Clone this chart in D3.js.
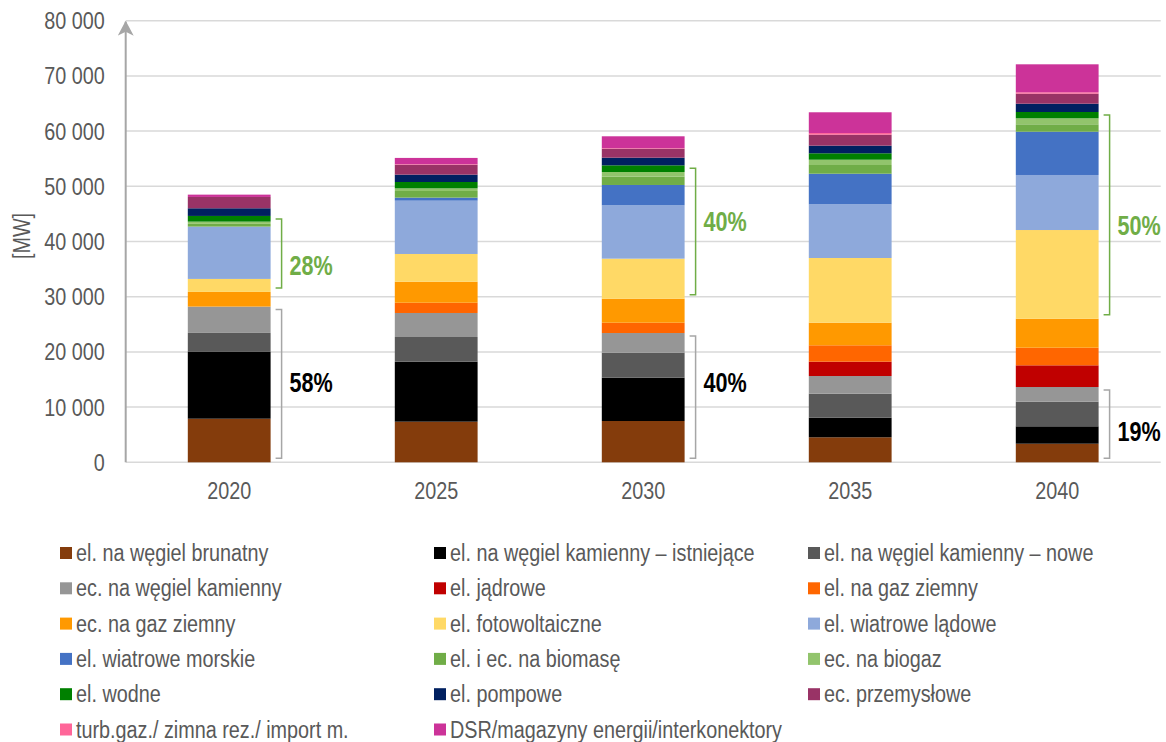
<!DOCTYPE html>
<html>
<head>
<meta charset="utf-8">
<script src="https://cdn.jsdelivr.net/npm/d3@7"></script>
<style>
  body { margin: 0; background: #fff; }
  svg text { font-family: "Liberation Sans Narrow", "Arial Narrow", "Liberation Sans", Arial, sans-serif; }
</style>
</head>
<body>
<svg id="chart" width="1166" height="742"></svg>
<script>
const years = ["2020", "2025", "2030", "2035", "2040"];

const seriesNames = [
    "el. na węgiel brunatny",
    "el. na węgiel kamienny – istniejące",
    "el. na węgiel kamienny – nowe",
    "ec. na węgiel kamienny",
    "el. jądrowe",
    "el. na gaz ziemny",
    "ec. na gaz ziemny",
    "el. fotowoltaiczne",
    "el. wiatrowe lądowe",
    "el. wiatrowe morskie",
    "el. i ec. na biomasę",
    "ec. na biogaz",
    "el. wodne",
    "el. pompowe",
    "ec. przemysłowe",
    "turb.gaz./ zimna rez./ import m.",
    "DSR/magazyny energii/interkonektory"
];

const seriesColors = [
    "#843C0C", "#000000", "#595959", "#969696", "#C00000", "#FF6600",
    "#FF9900", "#FFD966", "#8EA9DB", "#4472C4", "#70AD47", "#92C46C",
    "#008000", "#002060", "#993366", "#FF6699", "#CC3399"
];

// MW per year: 2020, 2025, 2030, 2035, 2040
const brunatny     = [7900, 7360, 7480, 4530, 3370];
const kamIstn      = [12100, 10870, 7850, 3550, 3150];
const kamNowe      = [3440, 4470, 4530, 4350, 4460];
const ecKamienny   = [4770, 4350, 3560, 3200, 2660];
const jadrowe      = [0, 0, 0, 2600, 3930];
const elGaz        = [0, 1860, 1870, 2970, 3190];
const ecGaz        = [2660, 3810, 4350, 4090, 5250];
const foto         = [2350, 5020, 7250, 11720, 16070];
const wiatrLad     = [9480, 9660, 9670, 9730, 9970];
const wiatrMorskie = [0, 550, 3680, 5540, 7840];
const biomasa      = [500, 1200, 1500, 1580, 1340];
const biogaz       = [400, 480, 850, 960, 1090];
const wodne        = [1030, 1150, 1210, 1160, 1140];
const pompowe      = [1390, 1330, 1380, 1380, 1500];
const przemyslowe  = [2050, 1810, 1640, 1990, 1820];
const turbGaz      = [0, 100, 100, 300, 250];
const dsr          = [420, 1120, 2140, 3760, 5070];

const seriesValues = [
    brunatny, kamIstn, kamNowe, ecKamienny, jadrowe, elGaz, ecGaz, foto,
    wiatrLad, wiatrMorskie, biomasa, biogaz, wodne, pompowe, przemyslowe, turbGaz, dsr
];

const yTicks = [0, 10000, 20000, 30000, 40000, 50000, 60000, 70000, 80000];

// share brackets: series index range, label, label level (MW)
const annotations = [
    { year: "2020", from: 0, to: 3, text: "58%", kind: "coal", labelAt: 14500 },
    { year: "2020", from: 7, to: 12, text: "28%", kind: "res", labelAt: 35700 },
    { year: "2030", from: 0, to: 3, text: "40%", kind: "coal", labelAt: 14500 },
    { year: "2030", from: 7, to: 12, text: "40%", kind: "res", labelAt: 43700 },
    { year: "2040", from: 0, to: 3, text: "19%", kind: "coal", labelAt: 5700 },
    { year: "2040", from: 7, to: 12, text: "50%", kind: "res", labelAt: 43000 }
];

const rows = years.map((year, i) => {
    const r = { year };
    seriesNames.forEach((name, s) => { r[name] = seriesValues[s][i]; });
    return r;
});

const svg = d3.select("#chart");
const plotLeft = 125.7, plotRight = 1160.7, plotTop = 20.7, plotBottom = 462.3;

const x = d3.scaleBand()
    .domain(years)
    .range([plotLeft, plotRight])
    .paddingInner(0.6)
    .paddingOuter(0.3);

const y = d3.scaleLinear()
    .domain([0, 80000])
    .range([plotBottom, plotTop]);

const color = d3.scaleOrdinal().domain(seriesNames).range(seriesColors);

// gridlines
svg.append("g")
    .selectAll("line")
    .data(yTicks)
    .join("line")
    .attr("x1", plotLeft)
    .attr("x2", plotRight)
    .attr("y1", d => y(d))
    .attr("y2", d => y(d))
    .attr("stroke", "#D9D9D9")
    .attr("stroke-width", 1.5);

// y axis labels
const yAxis = svg.append("g")
    .attr("transform", `translate(${plotLeft - 21}, 0)`)
    .call(d3.axisLeft(y).tickValues(yTicks).tickSize(0).tickPadding(0)
        .tickFormat(d => d3.format(",")(d).replace(/,/g, " ")));
yAxis.select(".domain").remove();
yAxis.selectAll("text")
    .attr("fill", "#595959")
    .style("font-size", "23px")
    .attr("dy", "0.35em");

svg.append("text")
    .attr("transform", `translate(30, 236) rotate(-90)`)
    .attr("text-anchor", "middle")
    .attr("fill", "#595959")
    .style("font-size", "23px")
    .text("[MW]");

// stacked bars
const stacked = d3.stack().keys(seriesNames)(rows);

svg.append("g")
    .selectAll("g")
    .data(stacked)
    .join("g")
    .attr("fill", d => color(d.key))
    .selectAll("rect")
    .data(d => d)
    .join("rect")
    .attr("x", d => x(d.data.year))
    .attr("width", x.bandwidth())
    .attr("y", d => y(d[1]))
    .attr("height", d => y(d[0]) - y(d[1]));

// value axis line with arrow
svg.append("defs").append("marker")
    .attr("id", "arrow")
    .attr("viewBox", "0 0 16 16")
    .attr("refX", 8)
    .attr("refY", 1)
    .attr("markerWidth", 16)
    .attr("markerHeight", 16)
    .attr("markerUnits", "userSpaceOnUse")
    .attr("orient", "0")
    .append("path")
    .attr("d", "M8,0 L16,15 L8,11 L0,15 Z")
    .attr("fill", "#A6A6A6");

svg.append("line")
    .attr("x1", plotLeft)
    .attr("x2", plotLeft)
    .attr("y1", plotBottom)
    .attr("y2", plotTop + 1)
    .attr("stroke", "#A6A6A6")
    .attr("stroke-width", 2)
    .attr("marker-end", "url(#arrow)");

// x axis labels
const xAxis = svg.append("g")
    .attr("transform", `translate(0, ${plotBottom + 20.5})`)
    .call(d3.axisBottom(x).tickSize(0).tickPadding(0));
xAxis.select(".domain").remove();
xAxis.selectAll("text")
    .attr("fill", "#595959")
    .style("font-size", "23px")
    .attr("dy", "0.71em");

// brackets and shares
const bracketColor = { coal: "#A6A6A6", res: "#70AD47" };
const labelColor = { coal: "#000000", res: "#70AD47" };
const yearIndex = d => years.indexOf(d);

annotations.forEach(a => {
    const i = yearIndex(a.year);
    const top = y(stacked[a.to][i][1]) + 3;
    const bottom = y(stacked[a.from][i][0]) - 4;
    const bx = x(a.year) + x.bandwidth() + 11;

    svg.append("path")
        .attr("d", `M${bx - 6},${top} H${bx} V${bottom} H${bx - 6}`)
        .attr("fill", "none")
        .attr("stroke", bracketColor[a.kind])
        .attr("stroke-width", 1.5);

    // narrow bold look: scale the label horizontally
    svg.append("text")
        .attr("class", "share")
        .attr("transform", `translate(${bx + 8}, ${y(a.labelAt)}) scale(0.8, 1)`)
        .attr("dy", "0.36em")
        .attr("fill", labelColor[a.kind])
        .style("font-size", "27px")
        .style("font-weight", "bold")
        .text(a.text);
});

// legend
const legend = svg.append("g");
const legendItems = legend.selectAll("g")
    .data(seriesNames)
    .join("g")
    .attr("transform", (d, i) => `translate(${60 + (i % 3) * 374}, ${553 + Math.floor(i / 3) * 35.3})`);

legendItems.append("rect")
    .attr("x", 0)
    .attr("y", -6)
    .attr("width", 12)
    .attr("height", 12)
    .attr("fill", d => color(d));

legendItems.append("text")
    .attr("x", 16)
    .attr("dy", "0.35em")
    .attr("fill", "#595959")
    .style("font-size", "23px")
    .text(d => d);

// the original uses a narrow face; squeeze the other texts horizontally
svg.selectAll("text:not(.share)").each(function () {
    const len = this.getComputedTextLength();
    d3.select(this)
        .attr("textLength", len * 0.86)
        .attr("lengthAdjust", "spacingAndGlyphs");
});
</script>
</body>
</html>
